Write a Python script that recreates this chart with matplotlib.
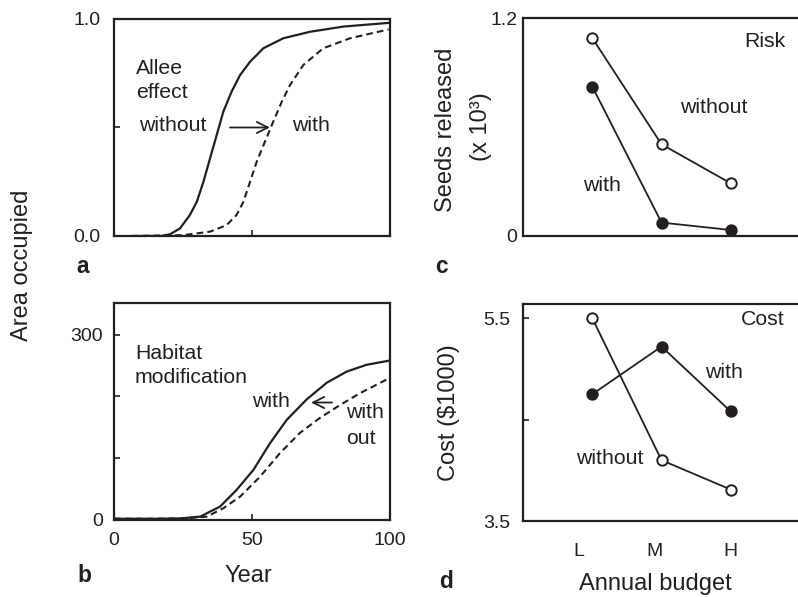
import matplotlib
matplotlib.use('Agg')
import matplotlib.pyplot as plt

plt.rcParams['font.family'] = ['Liberation Sans', 'DejaVu Sans']
plt.rcParams['text.color'] = '#231f20'
plt.rcParams['axes.edgecolor'] = '#231f20'
plt.rcParams['xtick.color'] = '#231f20'
plt.rcParams['ytick.color'] = '#231f20'

# panel a - Allee effect (area occupied, fraction)
yr_a_without = [6.4, 17, 20.3, 23.9, 27.5, 30, 32.4, 34.8, 37.2, 39.6, 42.6, 45.7,
                49.3, 54.1, 61.3, 71, 83.1, 99.5]
a_without = [0.0, 0.0, 0.008, 0.035, 0.097, 0.158, 0.25, 0.358, 0.465, 0.573, 0.665,
             0.742, 0.803, 0.865, 0.911, 0.941, 0.965, 0.982]
yr_a_with = [6.4, 25.1, 34.8, 40.8, 44.4, 46.9, 49.3, 51.7, 54.7, 57.7, 60.8, 63.8,
             68.6, 75.8, 85.5, 99.5]
a_with = [0.0, 0.004, 0.02, 0.05, 0.097, 0.158, 0.25, 0.342, 0.435, 0.527, 0.619,
          0.696, 0.788, 0.865, 0.911, 0.952]

# panel b - habitat modification
yr_b_with = [0, 15, 23.9, 31.2, 38.4, 44.4, 50.5, 56.5, 62.6, 69.8, 77.1, 84.3, 91.5, 100]
b_with = [2, 2, 2.5, 5.4, 21.6, 48.6, 81, 124, 162, 195, 222, 240, 251, 258]
yr_b_without = [0, 15, 25, 33.6, 39.6, 45.7, 52.9, 60.1, 67.4, 74.6, 81.9, 89.1, 100]
b_without = [2, 2, 2.5, 5.4, 19, 37.8, 70, 108, 141, 165, 186, 205, 230]

# panels c, d - annual budget
budget = ['L', 'M', 'H']
budget_x = [1, 2, 3]
seeds_without = [1.09, 0.505, 0.29]
seeds_with = [0.823, 0.074, 0.033]
cost_without = [5.5, 4.10, 3.81]
cost_with = [4.75, 5.22, 4.58]

fig = plt.figure(figsize=(7.98, 5.97), dpi=100)
fig.patch.set_facecolor('white')

ax_a = fig.add_axes([0.1429, 0.6047, 0.3458, 0.3635])
ax_b = fig.add_axes([0.1429, 0.1290, 0.3458, 0.3635])
ax_c = fig.add_axes([0.6554, 0.6047, 0.3471, 0.3651])
ax_d = fig.add_axes([0.6554, 0.1273, 0.3471, 0.3635])

k = '#231f20'
fs_tick = 14
fs_txt = 15.3
fs_lab = 17

for ax in [ax_a, ax_b, ax_c, ax_d]:
    for s in ax.spines.values():
        s.set_linewidth(1.6)
    ax.tick_params(direction='in', length=4, width=1.2, labelsize=fs_tick)

# a
ax_a.plot(yr_a_without, a_without, color=k, lw=1.6)
ax_a.plot(yr_a_with, a_with, color=k, lw=1.5, linestyle=(0, (3.2, 2.0)))
ax_a.set_xlim(0, 100)
ax_a.set_ylim(0, 1.0)
ax_a.set_yticks([0, 0.5, 1.0])
ax_a.set_yticklabels(['0.0', '', '1.0'])
ax_a.set_xticks([50])
ax_a.set_xticklabels([])
ax_a.tick_params(axis='y', pad=10)
ax_a.text(8, 0.774, 'Allee', fontsize=fs_txt, va='center')
ax_a.text(8, 0.659, 'effect', fontsize=fs_txt, va='center')
ax_a.text(9, 0.51, 'without', fontsize=fs_txt, va='center')
ax_a.text(64.5, 0.51, 'with', fontsize=fs_txt, va='center')
ax_a.annotate('', xy=(57.5, 0.5), xytext=(41, 0.5),
              arrowprops=dict(arrowstyle='->', color=k, lw=1.3, mutation_scale=20))

# b
ax_b.plot(yr_b_with, b_with, color=k, lw=1.6)
ax_b.plot(yr_b_without, b_without, color=k, lw=1.5, linestyle=(0, (3.2, 2.0)))
ax_b.set_xlim(0, 100)
ax_b.set_ylim(0, 351)
ax_b.set_yticks([0, 100, 200, 300])
ax_b.set_yticklabels(['0', '', '', '300'])
ax_b.set_xticks([0, 50, 100])
ax_b.set_xticklabels(['0', '50', '100'])
ax_b.tick_params(axis='y', pad=8)
ax_b.tick_params(axis='x', pad=9)
ax_b.text(7.6, 270, 'Habitat', fontsize=fs_txt, va='center')
ax_b.text(7.6, 230, 'modification', fontsize=fs_txt, va='center')
ax_b.text(50, 192, 'with', fontsize=fs_txt, va='center')
ax_b.text(84, 174, 'with', fontsize=fs_txt, va='center')
ax_b.text(84, 132, 'out', fontsize=fs_txt, va='center')
ax_b.annotate('', xy=(70.4, 190), xytext=(80, 190),
              arrowprops=dict(arrowstyle='->', color=k, lw=1.3, mutation_scale=20))

# c
ax_c.plot(budget_x, seeds_with, color=k, lw=1.3, marker='o', ms=7.5,
          mfc=k, mec=k, mew=1.4)
ax_c.plot(budget_x, seeds_without, color=k, lw=1.3, marker='o', ms=7.5,
          mfc='white', mec=k, mew=1.4)
ax_c.set_xlim(0, 4)
ax_c.set_ylim(0, 1.2)
ax_c.set_yticks([0, 1.2])
ax_c.set_yticklabels(['0', '1.2'])
ax_c.set_xticks([])
ax_c.tick_params(axis='y', length=0, pad=4)
ax_c.text(3.2, 1.07, 'Risk', fontsize=fs_txt, va='center')
ax_c.text(2.27, 0.705, 'without', fontsize=fs_txt, va='center')
ax_c.text(0.86, 0.28, 'with', fontsize=fs_txt, va='center')

# d
ax_d.plot(budget_x, cost_with, color=k, lw=1.3, marker='o', ms=7.5,
          mfc=k, mec=k, mew=1.4)
ax_d.plot(budget_x, cost_without, color=k, lw=1.3, marker='o', ms=7.5,
          mfc='white', mec=k, mew=1.4)
ax_d.set_xlim(0, 4)
ax_d.set_ylim(3.5, 5.64)
ax_d.set_yticks([3.5, 4.5, 5.5])
ax_d.set_yticklabels(['3.5', '', '5.5'])
ax_d.set_xticks([0.8, 1.9, 3.0])
ax_d.set_xticklabels(budget)
ax_d.tick_params(axis='x', length=0, pad=16)
ax_d.tick_params(axis='y', pad=9)
ax_d.text(3.14, 5.49, 'Cost', fontsize=fs_txt, va='center')
ax_d.text(2.63, 4.96, 'with', fontsize=fs_txt, va='center')
ax_d.text(0.77, 4.12, 'without', fontsize=fs_txt, va='center')

# shared labels and panel letters
fig.text(22 / 798, 1 - 265 / 597, 'Area occupied', rotation=90,
         fontsize=fs_lab, ha='center', va='center')
fig.text(248 / 798, 1 - 576 / 597, 'Year', fontsize=fs_lab, ha='center', va='center')
fig.text(655 / 798, 1 - 584 / 597, 'Annual budget', fontsize=fs_lab, ha='center', va='center')
fig.text(446 / 798, 1 - 130 / 597, 'Seeds released', rotation=90,
         fontsize=fs_lab, ha='center', va='center')
fig.text(481 / 798, 1 - 127 / 597, '(x 10³)', rotation=90,
         fontsize=fs_lab, ha='center', va='center')
fig.text(449 / 798, 1 - 413 / 597, 'Cost ($1000)', rotation=90,
         fontsize=fs_lab, ha='center', va='center')

for lbl, x, y in [('a', 76, 273), ('b', 77, 582), ('c', 435, 273), ('d', 439, 588)]:
    fig.text(x / 798, 1 - y / 597, lbl, fontsize=fs_txt + 1, fontweight='bold',
             ha='left', va='baseline')

fig.savefig('out.png', dpi=100, facecolor='white')
